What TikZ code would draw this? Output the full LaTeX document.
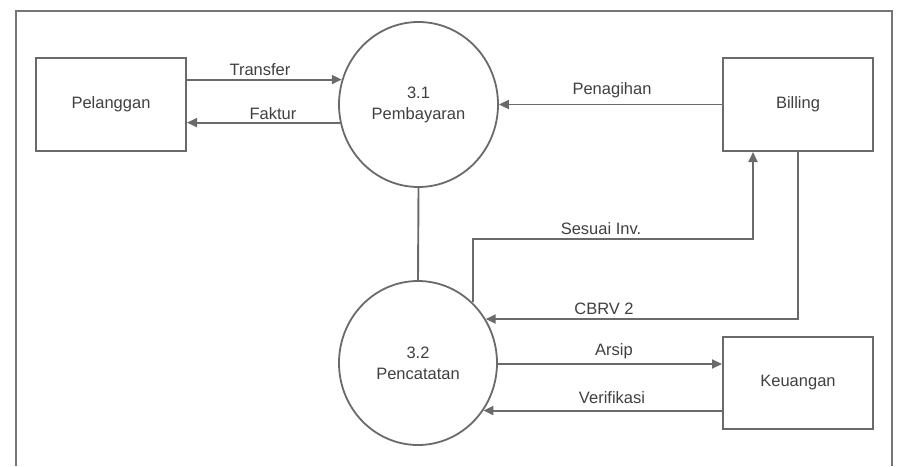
\documentclass[tikz,border=0pt]{standalone}
\usepackage{fontspec}
\setmainfont{Liberation Sans}
\usetikzlibrary{arrows.meta,shapes.geometric}
\definecolor{linegray}{HTML}{6A6A6A}
\definecolor{framegray}{HTML}{757575}
\definecolor{textgray}{HTML}{404040}
\begin{document}
\begin{tikzpicture}[x=1pt,y=-1pt,
  every node/.style={font=\fontsize{16.5}{21}\selectfont, text=textgray},
  entity/.style={draw=linegray, line width=2pt, minimum width=150pt, minimum height=93pt, inner sep=0pt},
  process/.style={draw=linegray, line width=1.8pt, ellipse, inner sep=0pt, align=center},
  flow/.style={draw=linegray, line width=1.9pt, -{Triangle[length=10pt,width=9pt]}},
  link/.style={draw=linegray, line width=1.9pt},
  lbl/.style={anchor=base, inner sep=0pt}]
\useasboundingbox (0,0) rectangle (901,466);
\fill[white] (0,0) rectangle (901,466);
% outer frame (open at the bottom edge)
\draw[line width=2.6pt, draw=framegray] (16,466) -- (16,11) -- (892,11) -- (892,466);

% external entities
\node[entity] (pel) at (111,104.5) {Pelanggan};
\node[entity] (bil) at (798,104.5) {Billing};
\node[entity, minimum height=92pt] (keu) at (798,383) {Keuangan};

% processes
\node[process, minimum width=159pt, minimum height=165pt] (p31) at (418.5,104.5) {3.1\\Pembayaran};
\node[process, minimum width=158pt, minimum height=164pt] (p32) at (418,363) {3.2\\Pencatatan};

% data flows
\draw[flow] (pel.east |- p31.162.86) -- (p31.162.86);
\draw[flow] (p31.193.43) -- (pel.east |- p31.193.43);
\draw[flow] (bil.west) -- (p31.east);
\draw[link] (p31.south) -- (p32.north);
\draw[flow] (p32.48) -- ++(0,-63) -| ([xshift=-45pt]bil.south);
\draw[flow] (bil.south) |- (p32.33.4);
\draw[flow] ([yshift=-1pt]p32.east) -- ([yshift=-1pt]p32.east -| keu.west);
\draw[flow] (keu.west |- p32.-36) -- (p32.-36);

% flow labels
\node[lbl] (ltransfer) at (260,75) {Transfer};
\node[lbl] (lfaktur) at (273,119) {Faktur};
\node[lbl] (lpenagihan) at (612,94) {Penagihan};
\node[lbl] (lsesuai) at (601,234) {Sesuai Inv.};
\node[lbl] (lcbrv) at (604,314) {CBRV 2};
\node[lbl] (larsip) at (614,355) {Arsip};
\node[lbl] (lverif) at (612,403) {Verifikasi};
\end{tikzpicture}
\end{document}
